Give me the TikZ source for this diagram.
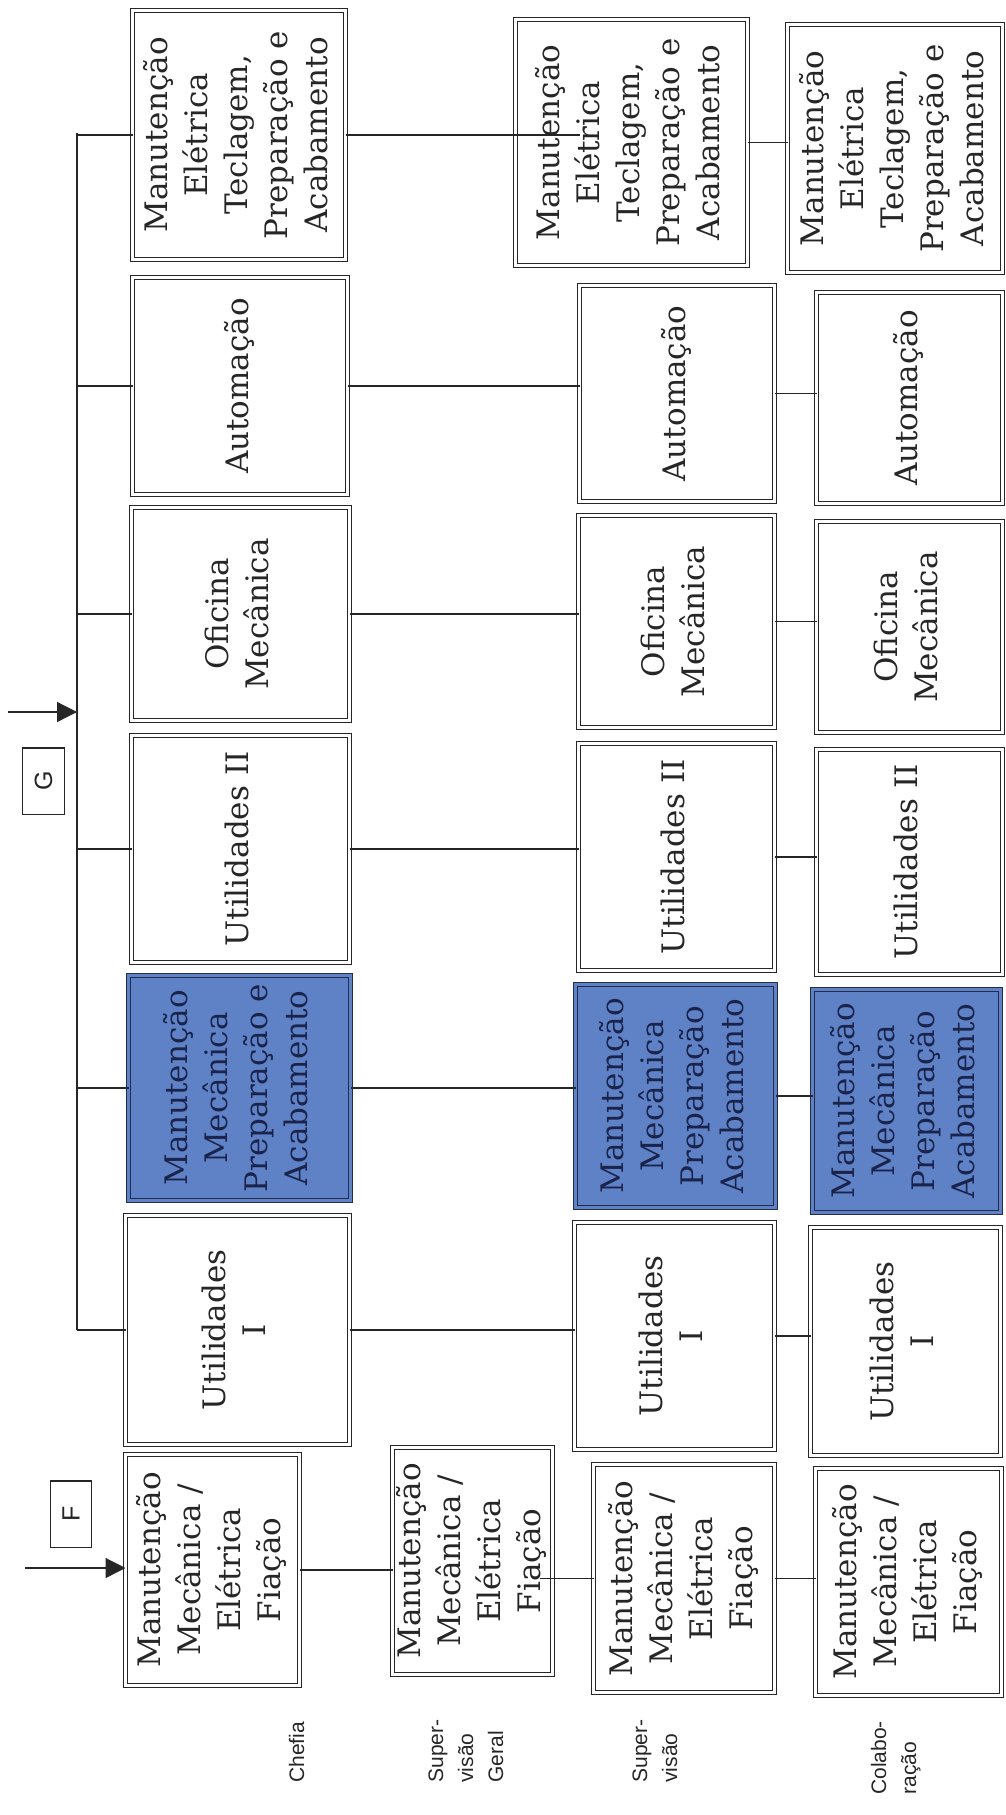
\documentclass[tikz,border=0pt]{standalone}
\usepackage{fontspec}
\setmainfont{DejaVu Serif}
\newfontfamily\labelfont{Liberation Sans}
\usepackage{graphicx}
\usetikzlibrary{arrows.meta}

\definecolor{ink}{RGB}{38,38,38}
\definecolor{boxfill}{RGB}{95,130,198}
\definecolor{boxedge}{RGB}{35,45,75}
\definecolor{boxtext}{RGB}{25,35,75}

% text set bottom-to-top inside a box
\newcommand\vtext[1]{\rotatebox{90}{\begin{tabular}{@{}c@{}}#1\end{tabular}}}
\newcommand\vlabel[1]{\rotatebox{90}{\begin{tabular}{@{}l@{}}#1\end{tabular}}}

% \orgbox{name}{x1}{y1}{x2}{y2}{extra style}{text}: double-framed unit between two corners
\newcommand\orgbox[7]{%
  \node[orgunit,#6,minimum width={(#4-#2-5)*0.5pt},minimum height={(#5-#3-5)*0.5pt}]
    (#1) at ({(#2+#4)/2},{(#3+#5)/2}) {\vtext{#7}};}

\tikzset{
  orgunit/.style={draw=ink, line width=0.7pt, double=white, double distance=1.2pt,
    fill=white, inner sep=0pt, outer sep=0pt, text=ink,
    font=\fontsize{15.5}{20}\selectfont},
  hilite/.style={draw=boxedge, fill=boxfill, double=boxfill, text=boxtext},
  wire/.style={draw=ink, line width=0.65pt},
  feed/.style={wire, -{Triangle[length=10pt,width=10pt]}},
  tag/.style={draw=ink, line width=0.7pt, inner sep=0pt, text=ink,
    font=\labelfont\fontsize{12.5}{15}\selectfont},
  levellabel/.style={inner sep=0pt, anchor=south, text=ink,
    font=\labelfont\fontsize{10.5}{15}\selectfont}
}

\begin{document}
\begin{tikzpicture}[x=0.5pt,y=-0.5pt]
\fill[white] (0,0) rectangle (1006,1815);
\useasboundingbox (0,0) rectangle (1006,1815);

% Chefia
\orgbox{c1}{130}{8}{348}{262}{}{Manutenção\\Elétrica\\Teclagem,\\Preparação e\\Acabamento}
\orgbox{c2}{130}{275}{350}{497}{}{Automação}
\orgbox{c3}{129}{505}{352}{723}{}{Oficina\\Mecânica}
\orgbox{c4}{129}{733}{352}{965}{}{Utilidades II}
\orgbox{c5}{126}{973}{353}{1203}{hilite}{Manutenção\\Mecânica\\Preparação e\\Acabamento}
\orgbox{c6}{123}{1213}{352}{1447}{}{Utilidades\\I}
\orgbox{c7}{123}{1452}{302}{1688}{}{Manutenção\\Mecânica /\\Elétrica\\Fiação}

% Supervisão geral
\orgbox{sg}{390}{1445}{555}{1677}{}{Manutenção\\Mecânica /\\Elétrica\\Fiação}

% Supervisão
\orgbox{s1}{513}{17}{750}{268}{}{Manutenção\\Elétrica\\Teclagem,\\Preparação e\\Acabamento}
\orgbox{s2}{577}{283}{777}{504}{}{Automação}
\orgbox{s3}{576}{513}{777}{730}{}{Oficina\\Mecânica}
\orgbox{s4}{576}{741}{777}{973}{}{Utilidades II}
\orgbox{s5}{573}{982}{778}{1210}{hilite}{Manutenção\\Mecânica\\Preparação\\Acabamento}
\orgbox{s6}{572}{1220}{777}{1452}{}{Utilidades\\I}
\orgbox{s7}{591}{1462}{777}{1695}{}{Manutenção\\Mecânica /\\Elétrica\\Fiação}

% Colaboração
\orgbox{k1}{785}{22}{1005}{275}{}{Manutenção\\Elétrica\\Teclagem,\\Preparação e\\Acabamento}
\orgbox{k2}{814}{290}{1005}{506}{}{Automação}
\orgbox{k3}{814}{519}{1005}{735}{}{Oficina\\Mecânica}
\orgbox{k4}{814}{747}{1005}{977}{}{Utilidades II}
\orgbox{k5}{810}{987}{1003}{1215}{hilite}{Manutenção\\Mecânica\\Preparação\\Acabamento}
\orgbox{k6}{808}{1225}{1003}{1458}{}{Utilidades\\I}
\orgbox{k7}{813}{1466}{1004}{1698}{}{Manutenção\\Mecânica /\\Elétrica\\Fiação}

% bus feeding the chefia units
\coordinate (bustop) at (77,133);
\coordinate (busbot) at (77,1330);
\draw[wire] (bustop) -- (busbot);
\foreach \u in {c1,c2,c3,c4,c5,c6}
  \draw[wire] (bustop |- \u.west) -- (\u.west);

% chefia -> supervisão
\draw[wire] (c1.east) -- (c1.east -| s2.west);
\foreach \u/\v in {c2/s2,c3/s3,c4/s4,c5/s5,c6/s6}
  \draw[wire] (\u.east) -- (\u.east -| \v.west);

% fiação chain through supervisão geral
\draw[wire] (c7.east) -- (c7.east -| sg.west);
\coordinate (sgtap) at ([xshift=-6.5pt]sg.east);
\draw[wire] (sgtap |- s7.west) -- (s7.west);

% supervisão -> colaboração
\foreach \u/\v in {s1/k1,s2/k2,s3/k3,s4/k4,s5/k5,s6/k6,s7/k7}
  \draw[wire] (\u.east) -- (\u.east -| \v.west);

% incoming links G and F
\coordinate (gfrom) at (8,712);
\draw[feed] (gfrom) -- (gfrom -| bustop);
\node[tag, minimum width=20.8pt, minimum height=33.2pt] (gtag) at (43.5,781) {\rotatebox{90}{G}};
\coordinate (ffrom) at (25,1568);
\draw[feed] (ffrom) -- (ffrom -| c7.west);
\node[tag, minimum width=20.3pt, minimum height=33.2pt] (ftag) at (71,1514) {\rotatebox{90}{F}};

% hierarchy levels
\node[levellabel] (lchefia) at (298,1783) {\vlabel{Chefia}};
\node[levellabel] (lsg) at (467,1783) {\vlabel{Super-\\visão\\Geral}};
\node[levellabel] (lsup) at (656,1783) {\vlabel{Super-\\visão}};
\node[levellabel] (lcol) at (895,1795) {\vlabel{Colabo-\\ração}};
\end{tikzpicture}
\end{document}
